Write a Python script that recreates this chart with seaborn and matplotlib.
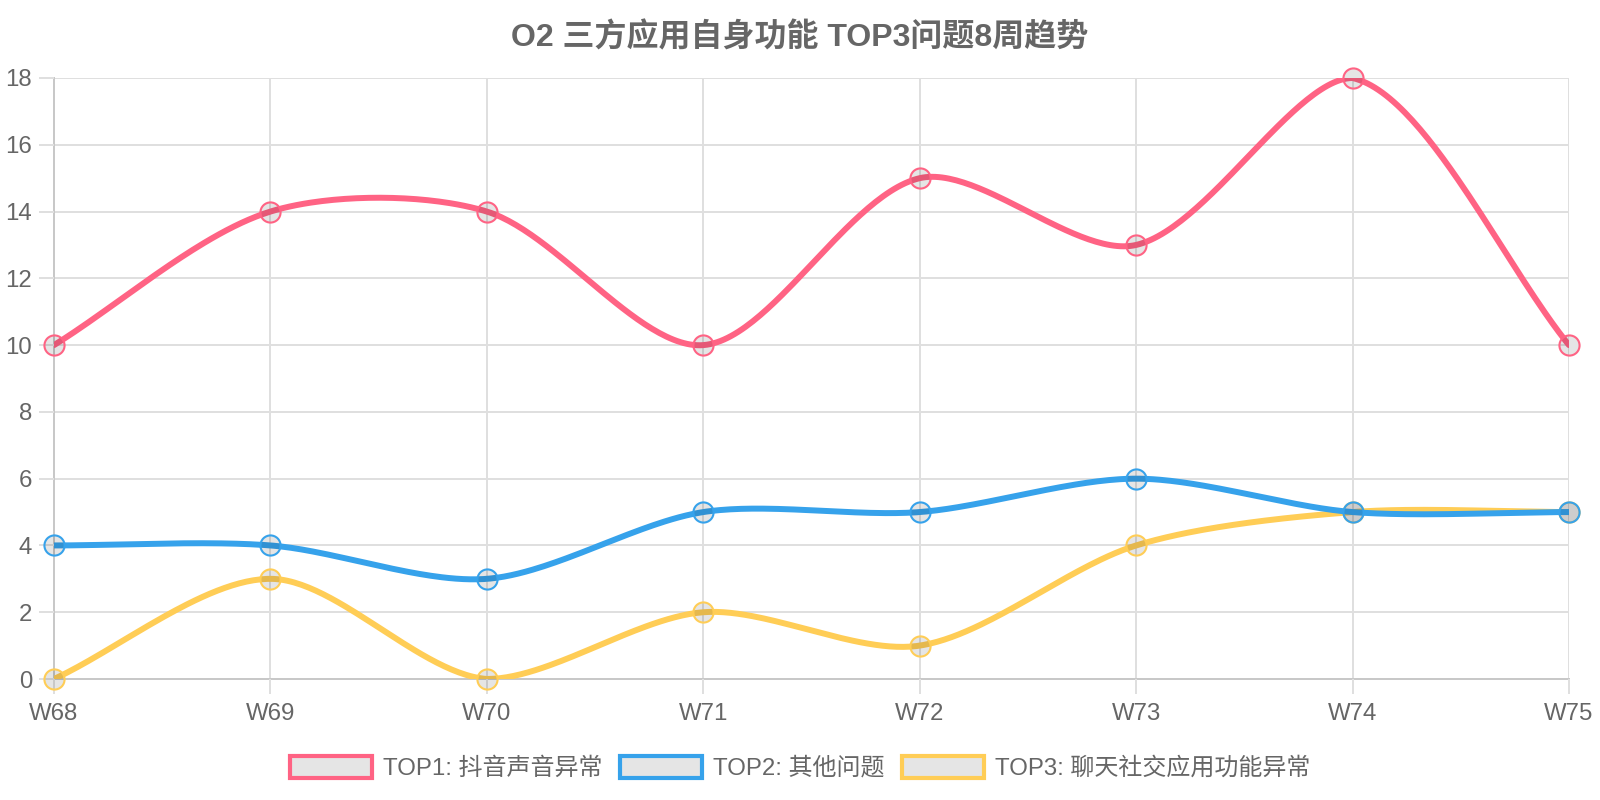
import numpy as np
import pandas as pd
import seaborn as sns
import matplotlib.pyplot as plt
from matplotlib.patches import Patch

weeks = ['W68', 'W69', 'W70', 'W71', 'W72', 'W73', 'W74', 'W75']
top1 = [10, 14, 14, 10, 15, 13, 18, 10]
top2 = [4, 4, 3, 5, 5, 6, 5, 5]
top3 = [0, 3, 0, 2, 1, 4, 5, 5]
names = ['TOP1: 抖音声音异常', 'TOP2: 其他问题', 'TOP3: 聊天社交应用功能异常']
colors = ['#ff6384', '#36a2eb', '#ffcd56']
title = 'O2 三方应用自身功能 TOP3问题8周趋势'

sns.set_theme(style='white')
plt.rcParams['font.family'] = ['Liberation Sans', 'Noto Sans CJK SC', 'DejaVu Sans']
txt = '#666666'
grid = '#dfdfdf'

W, H = 1600, 800
left, right, bottom, top = 54, 1569, 679, 78
ymax = 18

fig = plt.figure(figsize=(16, 8), dpi=100)
ax = fig.add_axes([left / W, 1 - bottom / H, (right - left) / W, (bottom - top) / H])

# pixel scale, used for the chart.js style spline control points
sx = (right - left) / (len(weeks) - 1)
sy = (bottom - top) / ymax


def spline(vals, t=0.3):
    px = np.arange(len(vals)) * sx
    py = np.array(vals, dtype=float) * sy
    n = len(vals)
    cp_prev, cp_next = [], []
    for i in range(n):
        p = max(i - 1, 0)
        q = min(i + 1, n - 1)
        d01 = np.hypot(px[i] - px[p], py[i] - py[p])
        d12 = np.hypot(px[q] - px[i], py[q] - py[i])
        s = d01 + d12
        s01 = d01 / s if s else 0
        s12 = d12 / s if s else 0
        dx, dy = px[q] - px[p], py[q] - py[p]
        a = (px[i] - t * s01 * dx, py[i] - t * s01 * dy)
        b = (px[i] + t * s12 * dx, py[i] + t * s12 * dy)
        # cap into chart area
        a = (np.clip(a[0], 0, px[-1]), np.clip(a[1], 0, ymax * sy))
        b = (np.clip(b[0], 0, px[-1]), np.clip(b[1], 0, ymax * sy))
        cp_prev.append(a)
        cp_next.append(b)
    xs, ys = [], []
    u = np.linspace(0, 1, 60)
    for i in range(n - 1):
        p0 = np.array([px[i], py[i]])
        p1 = np.array(cp_next[i])
        p2 = np.array(cp_prev[i + 1])
        p3 = np.array([px[i + 1], py[i + 1]])
        c = ((1 - u) ** 3)[:, None] * p0 + (3 * (1 - u) ** 2 * u)[:, None] * p1 \
            + (3 * (1 - u) * u ** 2)[:, None] * p2 + (u ** 3)[:, None] * p3
        xs.extend(c[:, 0] / sx)
        ys.extend(c[:, 1] / sy)
    return np.array(xs), np.array(ys)


series = [top1, top2, top3]
for k, (vals, c) in enumerate(zip(series, colors)):
    z = 10 - k * 2
    cx, cy = spline(vals)
    curve = pd.DataFrame({'x': cx, 'y': cy})
    sns.lineplot(data=curve, x='x', y='y', ax=ax, color=c, lw=4.3,
                 estimator=None, sort=False, zorder=z)
    ax.plot(range(len(weeks)), vals, 'o', ms=14.5, mfc=(0, 0, 0, 0.1),
            mec=c, mew=1.5, zorder=z + 1, clip_on=False)

ax.set_xlim(0, len(weeks) - 1)
ax.set_ylim(0, ymax)
ax.set_xticks(range(len(weeks)))
ax.set_xticklabels(weeks)
ax.set_yticks(range(0, 19, 2))
ax.set_xlabel('')
ax.set_ylabel('')
for v in range(2, 19, 2):
    ax.axhline(v, color=grid, lw=1.44, zorder=0)
for v in range(1, len(weeks)):
    ax.axvline(v, color=grid, lw=1.44, zorder=0)
for s in ['top', 'right']:
    ax.spines[s].set_visible(False)
for s in ['left', 'bottom']:
    ax.spines[s].set_color('#c8c8c8')
    ax.spines[s].set_linewidth(1.44)
    ax.spines[s].set_zorder(0.5)
ax.tick_params(axis='both', length=10.8, width=1.44, color=grid,
               labelsize=17.3, labelcolor=txt, left=True, bottom=True)
ax.tick_params(axis='y', pad=5)
ax.tick_params(axis='x', pad=6.5)

fig.text(0.5, 1 - 38 / H, title, ha='center', va='center', fontsize=23,
         fontweight='bold', color=txt)

handles = [Patch(facecolor=(0, 0, 0, 0.1), edgecolor=c, lw=3) for c in colors]
fig.legend(handles, names, loc='center', bbox_to_anchor=(0.5, 1 - 768 / H),
           ncol=3, frameon=False, fontsize=17.3, labelcolor=txt,
           handlelength=3.4, handleheight=1.0, handletextpad=0.45,
           columnspacing=0.75)

fig.savefig('out.png', dpi=100)
